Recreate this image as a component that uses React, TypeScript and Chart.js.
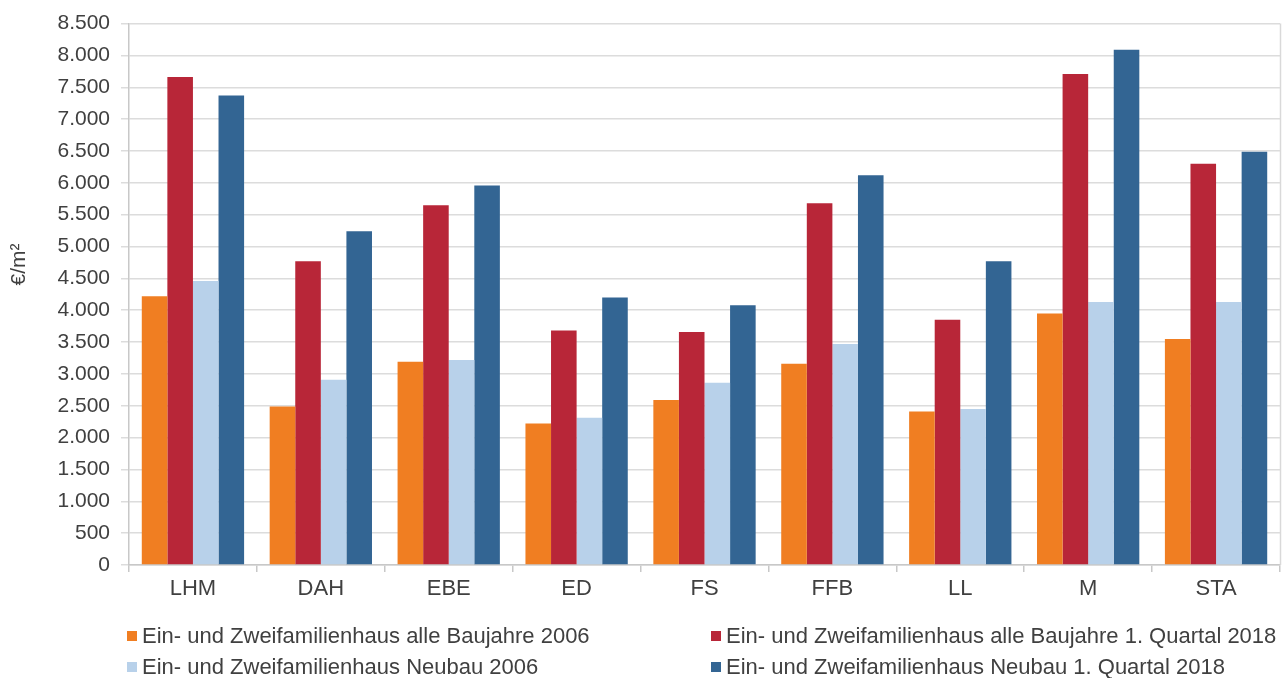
import React, { useEffect, useRef } from "react";
import { Chart, registerables } from "chart.js";

Chart.register(...registerables);

const CATEGORIES = ["LHM", "DAH", "EBE", "ED", "FS", "FFB", "LL", "M", "STA"];
const ALLE_2006 = [4220, 2490, 3190, 2220, 2590, 3160, 2410, 3950, 3550];
const ALLE_Q1_2018 = [7660, 4770, 5650, 3680, 3660, 5680, 3850, 7710, 6300];
const NEUBAU_2006 = [4460, 2910, 3220, 2310, 2860, 3470, 2450, 4130, 4130];
const NEUBAU_Q1_2018 = [7370, 5240, 5960, 4200, 4080, 6120, 4770, 8090, 6490];

const SERIES_LABELS = [
  "Ein- und Zweifamilienhaus alle Baujahre 2006",
  "Ein- und Zweifamilienhaus alle Baujahre 1. Quartal 2018",
  "Ein- und Zweifamilienhaus Neubau 2006",
  "Ein- und Zweifamilienhaus Neubau 1. Quartal 2018",
];
const SERIES_COLORS = ["#F07E22", "#B82638", "#B8D1EA", "#336593"];
const Y_TITLE = "€/m²";
const Y_MIN = 0;
const Y_MAX = 8500;
const Y_STEP = 500;

const FONT = "'Liberation Sans', Arial, sans-serif";
const TEXT_COLOR = "#404040";

function formatDe(v: number): string {
  const s = String(Math.round(v));
  return s.replace(/\B(?=(\d{3})+(?!\d))/g, ".");
}

export default function App() {
  const ref = useRef<HTMLCanvasElement | null>(null);

  useEffect(() => {
    if (!ref.current) return;
    const seriesData = [ALLE_2006, ALLE_Q1_2018, NEUBAU_2006, NEUBAU_Q1_2018];

    const extras = {
      id: "extras",
      afterDraw(chart: any) {
        const { ctx, chartArea } = chart;
        ctx.save();
        // right border of plot area
        ctx.strokeStyle = "#d9d9d9";
        ctx.lineWidth = 1.5;
        ctx.beginPath();
        ctx.moveTo(chartArea.right + 0.5, chartArea.top);
        ctx.lineTo(chartArea.right + 0.5, chartArea.bottom);
        ctx.stroke();
        // y axis title
        ctx.fillStyle = TEXT_COLOR;
        ctx.font = `21px ${FONT}`;
        ctx.textAlign = "center";
        ctx.textBaseline = "middle";
        ctx.translate(19, chartArea.top + (chartArea.bottom - chartArea.top) * 0.445);
        ctx.rotate(-Math.PI / 2);
        ctx.fillText(Y_TITLE, 0, 0);
        ctx.restore();
      },
    };

    const chart = new Chart(ref.current, {
      type: "bar",
      data: {
        labels: CATEGORIES,
        datasets: seriesData.map((d, i) => ({
          label: SERIES_LABELS[i],
          data: d,
          backgroundColor: SERIES_COLORS[i],
          borderWidth: 0,
          categoryPercentage: 0.8,
          barPercentage: 1.0,
        })),
      },
      options: {
        responsive: false,
        animation: false,
        layout: { padding: { left: 0, right: 7, top: 20, bottom: 73 } },
        plugins: {
          legend: { display: false },
          tooltip: { enabled: false },
        },
        scales: {
          x: {
            grid: {
              display: true,
              drawOnChartArea: false,
              drawTicks: true,
              tickLength: 7,
              color: "#c8c8c8",
              lineWidth: 1.5,
            },
            border: { display: true, color: "#c8c8c8", width: 1.5 },
            ticks: {
              color: TEXT_COLOR,
              font: { family: FONT, size: 22 },
              padding: 4,
              maxRotation: 0,
            },
            afterFit: (scale: any) => {
              scale.height = 40;
            },
          },
          y: {
            min: Y_MIN,
            max: Y_MAX,
            grid: {
              color: "#dcdcdc",
              lineWidth: 1.5,
              drawTicks: true,
              tickLength: 8,
            },
            border: { display: true, color: "#c8c8c8", width: 1.5 },
            ticks: {
              stepSize: Y_STEP,
              color: TEXT_COLOR,
              font: { family: FONT, size: 21 },
              padding: 11,
              callback: (v: any) => formatDe(Number(v)),
            },
            afterFit: (scale: any) => {
              scale.width = 129;
            },
          },
        },
      },
      plugins: [extras],
    });
    return () => chart.destroy();
  }, []);

  const legendPos = [
    { left: 127, top: 623 },
    { left: 711, top: 623 },
    { left: 127, top: 654 },
    { left: 711, top: 654 },
  ];

  return (
    <div style={{ position: "fixed", left: 0, top: 0, width: 1287, height: 678, background: "#fff", overflow: "hidden" }}>
      <canvas ref={ref} width={1287} height={678} style={{ display: "block", width: 1287, height: 678 }} />
      {SERIES_LABELS.map((lab, i) => (
        <div
          key={i}
          style={{
            position: "absolute",
            left: legendPos[i].left,
            top: legendPos[i].top,
            height: 26,
            display: "flex",
            alignItems: "center",
            fontFamily: FONT,
            fontSize: 22,
            lineHeight: "26px",
            color: TEXT_COLOR,
            whiteSpace: "nowrap",
          }}
        >
          <span style={{ display: "inline-block", width: 10, height: 10, background: SERIES_COLORS[i], marginRight: 5 }} />
          <span>{lab}</span>
        </div>
      ))}
    </div>
  );
}
